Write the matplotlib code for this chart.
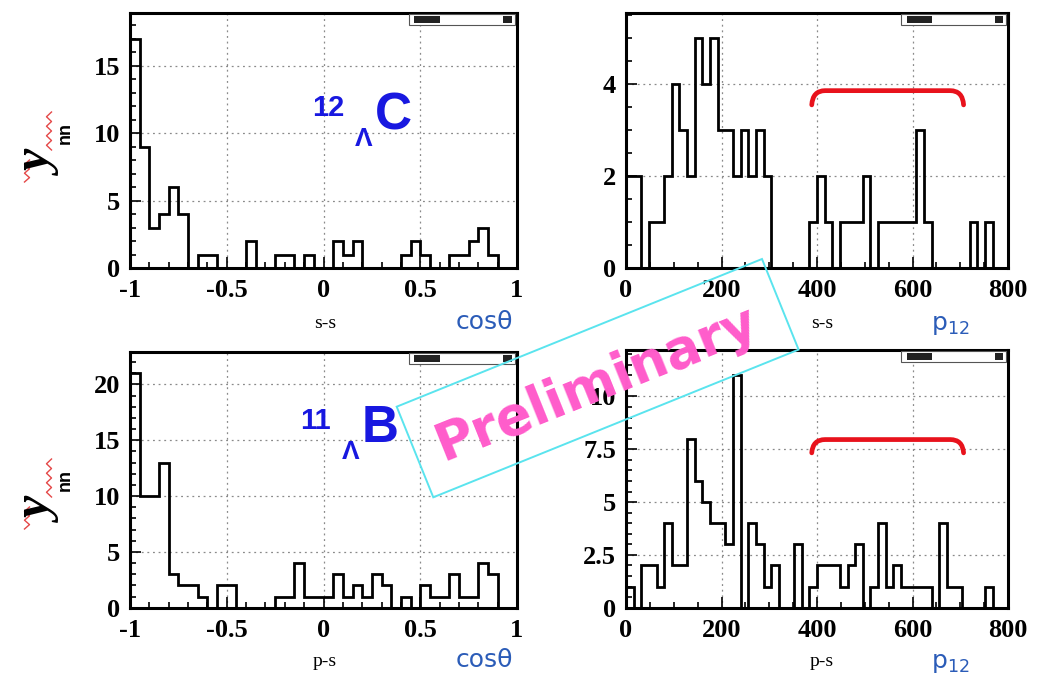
import numpy as np
import matplotlib
matplotlib.use("Agg")
import matplotlib.pyplot as plt
from matplotlib.ticker import MultipleLocator, FuncFormatter
from matplotlib.patches import Polygon, Rectangle, PathPatch
from matplotlib.path import Path
from matplotlib.lines import Line2D
from matplotlib.font_manager import FontProperties

plt.rcParams['axes.unicode_minus'] = False

# ---------------- data (counts per bin) ----------------
cos_edges = np.linspace(-1, 1, 41)      # 40 bins of 0.05
p12_edges = np.linspace(0, 800, 51)     # 50 bins of 16 MeV/c

cos_ss = [17, 9, 3, 4, 6, 4, 0, 1, 1, 0,
          0, 0, 2, 0, 0, 1, 1, 0, 1, 0,
          0, 2, 1, 2, 0, 0, 0, 0, 1, 2,
          1, 0, 0, 1, 1, 2, 3, 1, 0, 0]
p12_ss = [2, 2, 0, 1, 1, 2, 4, 3, 2, 5,
          4, 5, 3, 3, 2, 3, 2, 3, 2, 0,
          0, 0, 0, 0, 1, 2, 1, 0, 1, 1,
          1, 2, 0, 1, 1, 1, 1, 1, 3, 1,
          0, 0, 0, 0, 0, 1, 0, 1, 0, 0]
cos_ps = [21, 10, 10, 13, 3, 2, 2, 1, 0, 2,
          2, 0, 0, 0, 0, 1, 1, 4, 1, 1,
          1, 3, 1, 2, 1, 3, 2, 0, 1, 0,
          2, 1, 1, 3, 1, 1, 4, 3, 0, 0]
p12_ps = [1, 0, 2, 2, 1, 4, 2, 2, 8, 6,
          5, 4, 4, 3, 11, 0, 4, 3, 1, 2,
          0, 0, 3, 0, 1, 2, 2, 2, 1, 2,
          3, 0, 1, 4, 1, 2, 1, 1, 1, 1,
          0, 4, 1, 1, 0, 0, 0, 1, 0, 0]

cos_ticks = [-1, -0.5, 0, 0.5, 1]
p12_ticks = [0, 200, 400, 600, 800]
pair_labels = ["s-s", "p-s"]
nuclei = [("12", "Λ", "C"), ("11", "Λ", "B")]
bracket_range = [389, 707]          # p12 span of the red bracket
bracket_levels = [(3.55, 3.86), (7.33, 7.96)]

# ---------------- figure ----------------
W, H = 1041, 680
fig = plt.figure(figsize=(W / 100, H / 100), dpi=100)
fig.patch.set_facecolor("white")


def px_axes(x0, y0, x1, y1):
    return fig.add_axes([x0 / W, 1 - y1 / H, (x1 - x0) / W, (y1 - y0) / H])


def ft(x, y, s, **kw):
    return fig.text(x / W, 1 - y / H, s, **kw)


ax_tl = px_axes(130, 13, 517, 268)
ax_tr = px_axes(626, 13, 1008, 268)
ax_bl = px_axes(130, 352, 517, 607.7)
ax_br = px_axes(626, 350, 1008, 607.7)

tick_fp = FontProperties(family="Liberation Serif", weight="bold", size=19)


def style(ax, xlim, ylim, xticks, xmin, ymaj, ymin):
    ax.set_xlim(*xlim)
    ax.set_ylim(*ylim)
    ax.set_xticks(xticks)
    ax.xaxis.set_minor_locator(MultipleLocator(xmin))
    ax.yaxis.set_major_locator(MultipleLocator(ymaj))
    ax.yaxis.set_minor_locator(MultipleLocator(ymin))
    fmt = FuncFormatter(lambda v, p: "%g" % v)
    ax.xaxis.set_major_formatter(fmt)
    ax.yaxis.set_major_formatter(fmt)
    ax.tick_params(which="both", direction="in", top=False, right=False, width=1.2)
    ax.tick_params(which="major", length=8)
    ax.tick_params(which="minor", length=4)
    ax.tick_params(axis="x", which="major", pad=8)
    ax.tick_params(axis="y", which="major", pad=7)
    for lab in ax.get_xticklabels() + ax.get_yticklabels():
        lab.set_fontproperties(tick_fp)
    ax.grid(True, which="major", linestyle=(0, (1.5, 3)), color="#8a8a8a", linewidth=0.9)
    ax.set_axisbelow(True)
    for sp in ax.spines.values():
        sp.set_linewidth(2.2)
    # small ROOT stat-box remnant at top right
    ax.add_patch(Rectangle((0.72, 0.952), 0.275, 0.045, transform=ax.transAxes,
                           facecolor="white", edgecolor="#555555", lw=0.8, zorder=4))
    ax.add_patch(Rectangle((0.735, 0.962), 0.065, 0.028, transform=ax.transAxes,
                           facecolor="#222222", edgecolor="none", zorder=5))
    ax.add_patch(Rectangle((0.965, 0.962), 0.022, 0.028, transform=ax.transAxes,
                           facecolor="#222222", edgecolor="none", zorder=5))


hist_kw = dict(color="black", linewidth=2.0, baseline=0, fill=False, zorder=3)

ax_tl.stairs(cos_ss, cos_edges, **hist_kw)
ax_tr.stairs(p12_ss, p12_edges, **hist_kw)
ax_bl.stairs(cos_ps, cos_edges, **hist_kw)
ax_br.stairs(p12_ps, p12_edges, **hist_kw)

style(ax_tl, (-1, 1), (0, 18.9), cos_ticks, 0.1, 5, 1)
style(ax_tr, (0, 800), (0, 5.55), p12_ticks, 50, 2, 0.5)
style(ax_bl, (-1, 1), (0, 22.9), cos_ticks, 0.1, 5, 1)
style(ax_br, (0, 800), (0, 12.2), p12_ticks, 50, 2.5, 0.5)

# red brackets on the p12 panels
for ax, (yt, yf) in zip((ax_tr, ax_br), bracket_levels):
    x0, x1 = bracket_range
    r = 28
    verts = [(x0, yt), (x0 + 2, yf), (x0 + r, yf), (x1 - r, yf), (x1 - 2, yf), (x1, yt)]
    codes = [Path.MOVETO, Path.CURVE3, Path.CURVE3, Path.LINETO, Path.CURVE3, Path.CURVE3]
    ax.add_patch(PathPatch(Path(verts, codes), facecolor="none", edgecolor="#e8121c",
                           lw=3.4, capstyle="round", zorder=6))

# axis labels below panels
small_serif = dict(family="Liberation Serif", size=14, ha="center", va="center")
label_blue = "#2b5cb8"
for i, yrow in enumerate([323, 661]):
    ft(325, yrow, pair_labels[i], **small_serif)
    ft(822, yrow, pair_labels[i], **small_serif)
    ft(484, yrow - 1, "cosθ", family="DejaVu Sans", size=18, color=label_blue,
       ha="center", va="center")
    ft(950, yrow + 2, r"p$_{\mathregular{12}}$", family="DejaVu Sans", size=18,
       color=label_blue, ha="center", va="center")


# y-axis titles (y_nn with red wiggles)
def zigzag(xc, y0, y1, amp, n):
    ys = np.linspace(y0, y1, n)
    xs = xc + amp * np.array([(-1) ** k for k in range(n)])
    fig.add_artist(Line2D(xs / W, 1 - ys / H, transform=fig.transFigure,
                          color="#e02828", lw=1.0, alpha=0.85))


for cy in [164, 511]:
    ft(41, cy, "y", family="Liberation Serif", style="italic", weight="bold", size=36,
       rotation=90, ha="center", va="center")
    ft(65, cy - 31, "nn", family="Liberation Sans", weight="bold", size=13,
       rotation=90, ha="center", va="center")
    zigzag(49, cy - 52, cy - 14, 2.5, 9)
    zigzag(27, cy - 4, cy + 18, 2.5, 6)

# hypernucleus labels
nuc_blue = "#1818e0"
for (mass, lam, el), (cx, cy) in zip(nuclei, [(328, 108), (315, 421)]):
    ft(cx, cy, mass, family="Liberation Sans", weight="bold", size=21,
       color=nuc_blue, ha="center", va="center")
    ft(cx + 36, cy + 31, lam, family="Liberation Sans", weight="bold", size=19,
       color=nuc_blue, ha="center", va="center")
    ft(cx + 65, cy + 8, el, family="Liberation Sans", weight="bold", size=37,
       color=nuc_blue, ha="center", va="center")

# "Preliminary" stamp
corners = [(396.7, 406.7), (762, 259), (798.6, 349.6), (433.3, 497.3)]
fig.patches.append(Polygon([(x / W, 1 - y / H) for x, y in corners], closed=True,
                           transform=fig.transFigure, facecolor="none",
                           edgecolor="#5ae4ee", lw=1.4, zorder=10))
ft(596, 384, "Preliminary", family="DejaVu Sans", weight="bold", size=38,
   color="#ff5ccb", rotation=21.9, rotation_mode="anchor", ha="center", va="center",
   zorder=11)

fig.savefig("out.png", dpi=100, facecolor="white")
